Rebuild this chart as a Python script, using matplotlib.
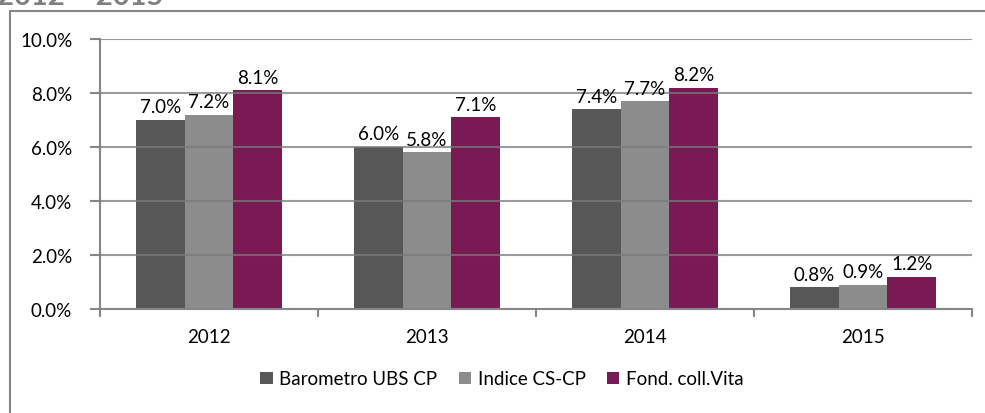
import matplotlib.pyplot as plt
import numpy as np
from matplotlib.patches import Rectangle

years = ['2012', '2013', '2014', '2015']
series_names = ['Barometro UBS CP', 'Indice CS-CP', 'Fond. coll.Vita']
barometro = [7.0, 6.0, 7.4, 0.8]
indice = [7.2, 5.8, 7.7, 0.9]
fond_vita = [8.1, 7.1, 8.2, 1.2]
colors = ['#575757', '#8c8c8c', '#7a1a55']

plt.rcParams['font.family'] = ['Lato', 'DejaVu Sans']
fs = 13.5

fig = plt.figure(figsize=(9.85, 4.14), dpi=100)
ax = fig.add_axes([100 / 985, 104 / 414, 872 / 985, 270 / 414])

# outer chart frame (clipped by image edge on right/bottom)
fig.patches.append(Rectangle((9.5 / 985, -0.1), 1.2, 1.1 - 12 / 414,
                             transform=fig.transFigure, fill=False,
                             edgecolor='#868686', linewidth=1.5))
fig.text(-0.003, 1 - 5 / 414, '2012 \u2013 2015', fontsize=21,
         fontweight='bold', color='#7f7f7f', ha='left', va='baseline')

x = np.arange(len(years))
w = 0.224
for i, vals in enumerate([barometro, indice, fond_vita]):
    pos = x + (i - 1) * w
    ax.bar(pos, vals, w, color=colors[i], label=series_names[i], zorder=1)
    for px, v in zip(pos, vals):
        ax.text(px, v + 0.17, '%.1f%%' % v, ha='center', va='bottom',
                fontsize=fs, color='black', zorder=4)

ax.set_xlim(-0.5, len(years) - 0.5)
ax.set_ylim(0, 10)
ax.set_yticks(np.arange(0, 10.1, 2))
ax.set_yticklabels(['%.1f%%' % t for t in np.arange(0, 10.1, 2)])
ax.set_xticks(x)
ax.set_xticklabels(years)
ax.set_xticks(np.arange(-0.5, len(years), 1), minor=True)
ax.tick_params(axis='x', which='major', length=0, pad=14, labelsize=fs)
ax.tick_params(axis='x', which='minor', length=6, width=1.5, color='#868686')
ax.tick_params(axis='y', length=7, width=1.5, color='#868686', pad=13,
               labelsize=fs)

for t in np.arange(2, 10.1, 2):
    ax.axhline(t, color='#7a7a7a', alpha=0.75, linewidth=1.5, zorder=3)

for s in ['top', 'right']:
    ax.spines[s].set_visible(False)
for s in ['left', 'bottom']:
    ax.spines[s].set_color('#868686')
    ax.spines[s].set_linewidth(1.5)

leg = fig.legend(loc='center', bbox_to_anchor=(502 / 985, 1 - 380 / 414),
                 ncol=3, frameon=False, fontsize=fs, handlelength=0.65,
                 handleheight=0.65, handletextpad=0.35, columnspacing=1.15)

fig.savefig('out.png', dpi=100)
